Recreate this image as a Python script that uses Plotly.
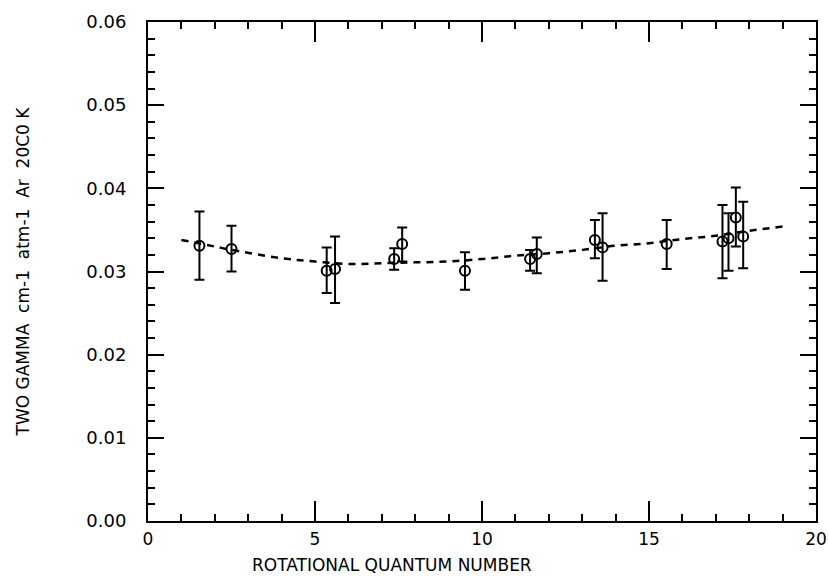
import plotly.graph_objects as go

# Measured points
j_vals = [1.54, 2.50, 5.35, 5.60, 7.37, 7.61, 9.49, 11.44, 11.64, 13.38, 13.61, 15.53, 17.20, 17.38, 17.60, 17.82]
gamma = [0.0331, 0.0327, 0.0301, 0.0303, 0.0315, 0.0333, 0.0301, 0.0315, 0.0321, 0.0338, 0.0329, 0.0333, 0.0336, 0.0340, 0.0365, 0.0342]
err_top = [0.0372, 0.0355, 0.0329, 0.0342, 0.0328, 0.0353, 0.0323, 0.0326, 0.0341, 0.0362, 0.0370, 0.0362, 0.0380, 0.0370, 0.0401, 0.0384]
err_bot = [0.0290, 0.0300, 0.0274, 0.0262, 0.0302, 0.0312, 0.0278, 0.0301, 0.0298, 0.0316, 0.0289, 0.0303, 0.0292, 0.0301, 0.0330, 0.0304]

# Dashed fit curve
fit_j = [1, 2, 2.5, 4, 5, 6, 7, 8, 9, 10, 11, 12, 13, 14, 15, 16, 17, 18, 19]
fit_gamma = [0.0338, 0.0330, 0.0326, 0.0316, 0.0312, 0.0309, 0.0310, 0.0311, 0.0312, 0.0315,
             0.0319, 0.0322, 0.0326, 0.0331, 0.0334, 0.0339, 0.0343, 0.0349, 0.0354]

x_ticks = [0, 5, 10, 15, 20]
y_ticks = [0.00, 0.01, 0.02, 0.03, 0.04, 0.05, 0.06]
y_tick_labels = ["0.00", "0.01", "0.02", "0.03", "0.04", "0.05", "0.06"]

err_plus = [t - g for t, g in zip(err_top, gamma)]
err_minus = [g - b for g, b in zip(gamma, err_bot)]

fig = go.Figure()
fig.add_trace(go.Scatter(
    x=fit_j, y=fit_gamma, mode="lines",
    line=dict(color="black", width=2.5, dash="7px,6px", shape="spline"),
    hoverinfo="skip", showlegend=False,
))
fig.add_trace(go.Scatter(
    x=j_vals, y=gamma, mode="markers",
    marker=dict(symbol="circle-open", size=10, color="black", line=dict(width=2, color="black")),
    error_y=dict(type="data", symmetric=False, array=err_plus, arrayminus=err_minus,
                 color="black", thickness=2, width=5),
    showlegend=False,
))

font_family = "DejaVu Sans, Liberation Sans, sans-serif"
fig.update_layout(
    width=828, height=582, autosize=False,
    margin=dict(l=148, r=12, t=22, b=61, autoexpand=False),
    paper_bgcolor="white", plot_bgcolor="white",
    font=dict(family=font_family, color="black"),
    xaxis=dict(
        range=[0, 20], tickvals=x_ticks, ticktext=[str(v) for v in x_ticks],
        ticks="inside", ticklen=20, tickwidth=2, tickcolor="black",
        showline=True, linecolor="black", linewidth=2, mirror="allticks",
        showgrid=False, zeroline=False, automargin=False,
        tickfont=dict(size=17), ticklabelstandoff=2,
        minor=dict(dtick=1, ticks="inside", ticklen=7, tickwidth=2, tickcolor="black", showgrid=False),
    ),
    yaxis=dict(
        range=[0, 0.06], tickvals=y_ticks, ticktext=y_tick_labels,
        ticks="inside", ticklen=16, tickwidth=2, tickcolor="black",
        showline=True, linecolor="black", linewidth=2, mirror="allticks",
        showgrid=False, zeroline=False, automargin=False,
        tickfont=dict(size=18), ticklabelstandoff=16,
        minor=dict(dtick=0.002, ticks="inside", ticklen=7, tickwidth=2, tickcolor="black", showgrid=False),
        title=dict(text="TWO GAMMA  cm-1  atm-1  Ar  20C0 K", font=dict(size=17), standoff=52),
    ),
    annotations=[dict(
        text="ROTATIONAL QUANTUM NUMBER", xref="paper", yref="paper",
        x=0.365, y=-0.088, xanchor="center", yanchor="middle",
        showarrow=False, font=dict(size=17),
    )],
)

fig.write_html(
    "out.html",
    config={"displayModeBar": False},
    post_script="document.body.style.margin='0';document.body.style.overflow='hidden';",
)
